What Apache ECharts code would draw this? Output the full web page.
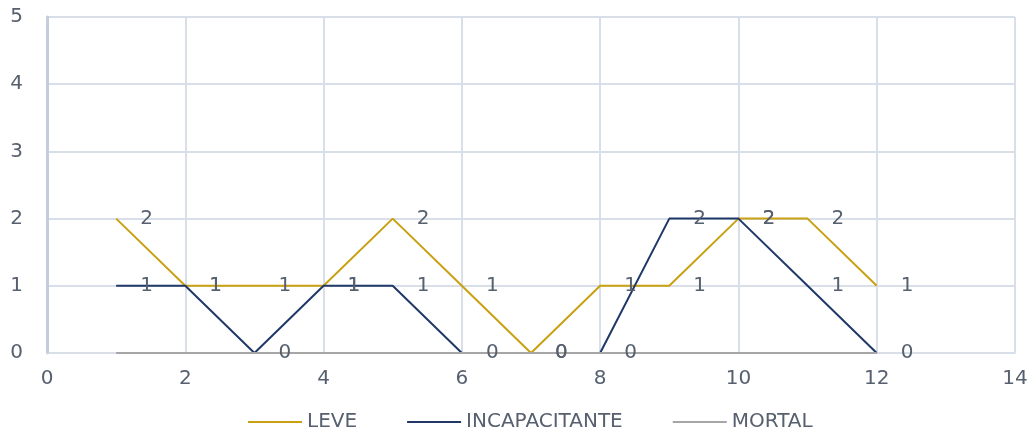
<!DOCTYPE html>
<html>
<head>
<meta charset="utf-8">
<script src="https://cdn.jsdelivr.net/npm/echarts@6/dist/echarts.min.js"></script>
<style>
  html, body { margin: 0; padding: 0; background: #ffffff; }
  #chart { width: 1033px; height: 431px; }
</style>
</head>
<body>
<div id="chart"></div>
<script>
// Months 1..12 and the count of accidents by severity
const xValues = [1, 2, 3, 4, 5, 6, 7, 8, 9, 10, 11, 12];
const leve = [2, 1, 1, 1, 2, 1, 0, 1, 1, 2, 2, 1];
const incapacitante = [1, 1, 0, 1, 1, 0, 0, 0, 2, 2, 1, 0];
const mortal = [0, 0, 0, 0, 0, 0, 0, 0, 0, 0, 0, 0];
const seriesNames = ['LEVE', 'INCAPACITANTE', 'MORTAL'];
const seriesColors = ['#C9A011', '#1F3868', '#A6A6A6'];

const FONT = 'DejaVu Sans';
const TEXT = '#56606F';
const FS = 20;

function pairs(values) {
  return xValues.map((x, i) => [x, values[i]]);
}

function lineSeries(name, values, color, showLabels) {
  return {
    name: name,
    type: 'line',
    data: pairs(values),
    showSymbol: true,
    symbol: 'circle',
    symbolSize: 0.1,
    lineStyle: { color: color, width: 2 },
    itemStyle: { color: color },
    label: {
      show: showLabels,
      position: 'right',
      distance: 24,
      color: TEXT,
      fontFamily: FONT,
      fontSize: FS
    },
    labelLayout: { hideOverlap: false },
    emphasis: { disabled: true },
    animation: false
  };
}

const chart = echarts.init(document.getElementById('chart'), null, { renderer: 'canvas' });
chart.setOption({
  animation: false,
  grid: { left: 47, right: 18, top: 17, bottom: 78, containLabel: false },
  legend: {
    top: 407,
    left: 243,
    itemWidth: 54,
    itemHeight: 2,
    itemGap: 50,
    icon: 'rect',
    textStyle: { color: TEXT, fontFamily: FONT, fontSize: FS },
    data: seriesNames
  },
  xAxis: {
    type: 'value',
    min: 0,
    max: 14,
    interval: 2,
    axisLine: { show: true, lineStyle: { color: '#D9DFE8', width: 1 } },
    axisTick: { show: false },
    axisLabel: { color: TEXT, fontFamily: FONT, fontSize: FS, margin: 16 },
    splitLine: { show: true, lineStyle: { color: '#D9DFE8', width: 2 } }
  },
  yAxis: {
    type: 'value',
    min: 0,
    max: 5,
    interval: 1,
    axisLine: { show: true, lineStyle: { color: '#C3CDDB', width: 3 } },
    axisTick: { show: false },
    axisLabel: { color: TEXT, fontFamily: FONT, fontSize: FS, margin: 24 },
    splitLine: { show: true, lineStyle: { color: '#D9DFE8', width: 2 } }
  },
  series: [
    lineSeries(seriesNames[0], leve, seriesColors[0], true),
    lineSeries(seriesNames[1], incapacitante, seriesColors[1], true),
    lineSeries(seriesNames[2], mortal, seriesColors[2], false)
  ]
});
</script>
</body>
</html>
